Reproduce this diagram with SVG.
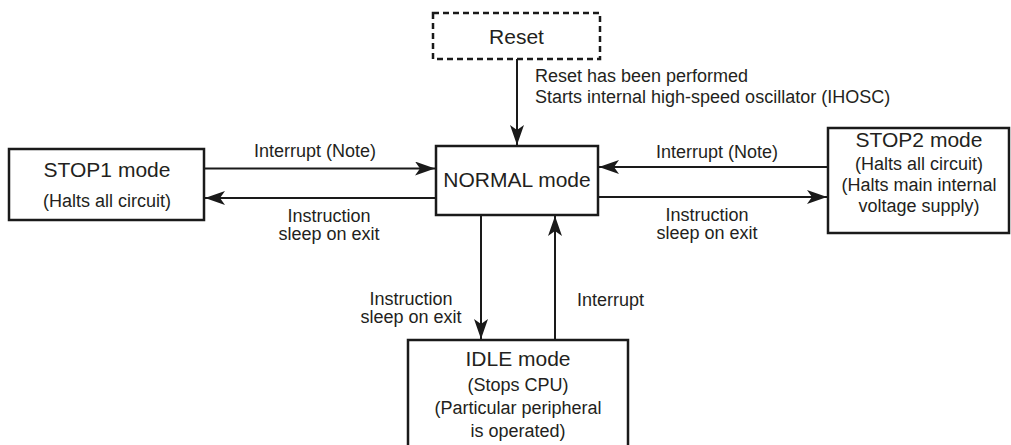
<svg xmlns="http://www.w3.org/2000/svg" width="1011" height="445" viewBox="0 0 1011 445">
<style>
.box{fill:#fff;stroke:#1a1a1a;stroke-width:2.5}
.dash{fill:#fff;stroke:#1a1a1a;stroke-width:2.5;stroke-dasharray:6 4}
.ln{fill:none;stroke:#1a1a1a;stroke-width:2;marker-end:url(#ah)}
text{font-family:"Liberation Sans",Arial,sans-serif;fill:#231f20}
.t{font-size:21px;text-anchor:middle}
.s{font-size:18px;text-anchor:middle}
.l{font-size:18px}
</style>
<defs>
<marker id="ah" markerUnits="userSpaceOnUse" viewBox="0 0 20 14" markerWidth="20" markerHeight="14" refX="20" refY="7" orient="auto">
<path d="M0,0 L20,7 L0,14 L5,7 Z" fill="#1a1a1a"/>
</marker>
</defs>
<rect width="1011" height="445" fill="#fff"/>
<g id="connectors">
<line class="ln" x1="517" y1="59" x2="517" y2="145"/>
<line class="ln" x1="204" y1="168.5" x2="435" y2="168.5"/>
<line class="ln" x1="436" y1="198" x2="205" y2="198"/>
<line class="ln" x1="828" y1="167" x2="599" y2="167"/>
<line class="ln" x1="598" y1="197" x2="827" y2="197"/>
<line class="ln" x1="481" y1="215" x2="481" y2="339"/>
<line class="ln" x1="555" y1="340" x2="555" y2="216"/>
<text class="l" x="535" y="82">Reset has been performed</text>
<text class="l" x="535" y="103">Starts internal high-speed oscillator (IHOSC)</text>
<text class="s" x="315" y="157">Interrupt (Note)</text>
<text class="s" x="329" y="222">Instruction</text>
<text class="s" x="329" y="240">sleep on exit</text>
<text class="s" x="717" y="158">Interrupt (Note)</text>
<text class="s" x="707" y="221">Instruction</text>
<text class="s" x="707" y="239">sleep on exit</text>
<text class="s" x="411" y="305">Instruction</text>
<text class="s" x="411" y="323">sleep on exit</text>
<text class="l" x="577" y="306">Interrupt</text>
</g>
<g id="reset">
<rect class="dash" x="433" y="13" width="167" height="46"/>
<text class="t" x="516.5" y="44">Reset</text>
</g>
<g id="stop1">
<rect class="box" x="9" y="149" width="195" height="71"/>
<text class="t" x="107" y="177">STOP1 mode</text>
<text class="s" x="107" y="207">(Halts all circuit)</text>
</g>
<g id="normal">
<rect class="box" x="436" y="146" width="162" height="69"/>
<text class="t" x="517" y="187">NORMAL mode</text>
</g>
<g id="stop2">
<rect class="box" x="828" y="128" width="181" height="105"/>
<text class="t" x="919" y="147">STOP2 mode</text>
<text class="s" x="919" y="170">(Halts all circuit)</text>
<text class="s" x="919" y="191">(Halts main internal</text>
<text class="s" x="919" y="212">voltage supply)</text>
</g>
<g id="idle">
<rect class="box" x="408" y="340" width="220" height="120"/>
<text class="t" x="518" y="366">IDLE mode</text>
<text class="s" x="518" y="391">(Stops CPU)</text>
<text class="s" x="518" y="414">(Particular peripheral</text>
<text class="s" x="518" y="437">is operated)</text>
</g>
</svg>
